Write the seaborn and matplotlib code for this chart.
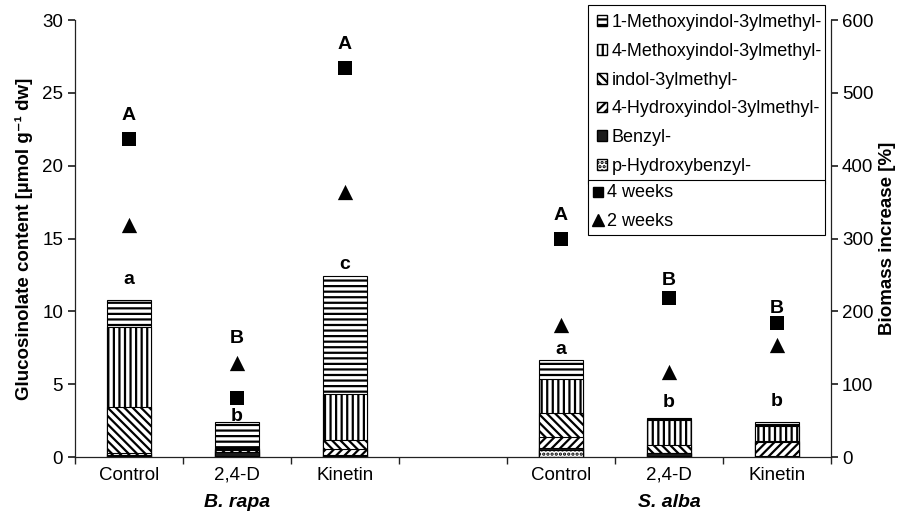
import numpy as np
import pandas as pd
import seaborn as sns
import matplotlib.pyplot as plt
from matplotlib.patches import Patch
from matplotlib.lines import Line2D

# --- data --------------------------------------------------------------
species = ["B. rapa", "S. alba"]
treatments = ["Control", "2,4-D", "Kinetin"]

# glucosinolate layers, bottom -> top, order: rapa Control, 2,4-D, Kinetin, alba Control, 2,4-D, Kinetin
p_hydroxybenzyl = [0.10, 0.05, 0.10, 0.45, 0.05, 0.03]
benzyl = [0.05, 0.30, 0.05, 0.15, 0.22, 0.02]
hydroxyindol_4 = [0.12, 0.10, 0.40, 0.77, 0.00, 0.98]
indol_3 = [3.13, 0.10, 0.62, 1.63, 0.55, 0.05]
methoxyindol_4 = [5.50, 0.05, 3.15, 2.35, 1.73, 1.05]
methoxyindol_1 = [1.90, 1.80, 8.10, 1.31, 0.13, 0.27]

# biomass increase [%]
weeks_4 = [437, 81, 534, 300, 218, 184]
weeks_2 = [319, 129, 364, 181, 117, 154]

# significance letters
lower_letters = ["a", "b", "c", "a", "b", "b"]
lower_y = [11.9, 2.45, 12.9, 7.1, 3.4, 3.5]          # left axis units
upper_letters = ["A", "B", "A", "A", "B", "B"]
upper_y = [463, 157, 560, 326, 236, 198]             # right axis units

layers = [
    ("p-Hydroxybenzyl-", p_hydroxybenzyl, "white", "...."),
    ("Benzyl-", benzyl, "#1c1c1c", ""),
    ("4-Hydroxyindol-3ylmethyl-", hydroxyindol_4, "white", "////"),
    ("indol-3ylmethyl-", indol_3, "white", "\\\\\\\\"),
    ("4-Methoxyindol-3ylmethyl-", methoxyindol_4, "white", "|||"),
    ("1-Methoxyindol-3ylmethyl-", methoxyindol_1, "white", "---"),
]

slots = [f"{sp} {t}" for sp in species for t in treatments]
order = slots[:3] + ["gap"] + slots[3:]

df = pd.DataFrame({"slot": slots})
running = np.zeros(len(slots))
for name, vals, _, _ in layers:
    running = running + np.array(vals)
    df[name] = running.copy()
df["4 weeks"] = weeks_4
df["2 weeks"] = weeks_2

# --- style ---------------------------------------------------------------
sns.set_theme(style="ticks")
plt.rcParams["font.family"] = ["Liberation Sans", "DejaVu Sans"]
plt.rcParams["hatch.linewidth"] = 1.6
plt.rcParams["axes.edgecolor"] = "#222222"
plt.rcParams["axes.linewidth"] = 0.9
for key in ["text.color", "axes.labelcolor", "xtick.color", "ytick.color"]:
    plt.rcParams[key] = "black"

fig = plt.figure(figsize=(9.08, 5.15), dpi=100)
ax = fig.add_axes([0.0826, 0.1126, 0.8326, 0.8485])

# stacked bars: draw cumulative totals from the top layer down
for name, _, face, hatch in reversed(layers):
    n0 = len(ax.patches)
    sns.barplot(data=df, x="slot", y=name, order=order, width=0.4,
                color=face, saturation=1, edgecolor="black", linewidth=0.8,
                errorbar=None, ax=ax)
    for p in ax.patches[n0:]:
        p.set_hatch(hatch)
        p.set_facecolor(face)

ax.set_ylim(0, 30)
ax.set_yticks(range(0, 31, 5))

ax2 = ax.twinx()
sns.stripplot(data=df, x="slot", y="4 weeks", order=order, jitter=False,
              marker="s", size=9.5, color="black", ax=ax2)
sns.stripplot(data=df, x="slot", y="2 weeks", order=order, jitter=False,
              marker="^", size=11, color="black", ax=ax2)
ax2.set_ylim(0, 600)
ax2.set_yticks(range(0, 601, 100))
ax2.set_xlim(-0.5, len(order) - 0.5)

# x axis: labels at centres, tick marks on slot boundaries
xpos = [order.index(s) for s in slots]
ax.set_xticks(xpos)
ax.set_xticklabels(treatments * 2, fontsize=13.5)
ax.tick_params(axis="x", length=0, pad=7)
ax.set_xticks(np.arange(-0.5, len(order), 1), minor=True)
ax.tick_params(axis="x", which="minor", length=5, direction="out", color="#222222")
ax.tick_params(axis="y", labelsize=13.5, length=5, direction="out", color="#222222")
ax2.tick_params(axis="y", labelsize=13.5, length=5, pad=3, direction="out", color="#222222")
ax.set_xlabel("")
ax2.set_xlabel("")

for side in ["top", "right"]:
    ax.spines[side].set_visible(False)
for side in ["top", "left", "bottom"]:
    ax2.spines[side].set_visible(False)

ax.set_ylabel("Glucosinolate content [µmol g\u207b\u00b9 dw]", fontsize=13.5,
              fontweight="bold")
ax.yaxis.set_label_coords(-0.056, 0.5)
ax2.set_ylabel("Biomass increase [%]", fontsize=13.5, fontweight="bold")
ax2.yaxis.set_label_coords(1.064, 0.5)

# species names under the groups
for i, sp in enumerate(species):
    ax.text(xpos[3 * i + 1], -0.105, sp, transform=ax.get_xaxis_transform(),
            ha="center", va="center", fontsize=14, fontweight="bold", style="italic")

# significance letters
for x, t, y in zip(xpos, lower_letters, lower_y):
    ax.text(x, y, t, ha="center", va="baseline", fontsize=14, fontweight="bold")
for x, t, y in zip(xpos, upper_letters, upper_y):
    ax2.text(x, y, t, ha="center", va="baseline", fontsize=14, fontweight="bold")

# legends: two boxes of equal width stacked on top of each other
bar_handles = [Patch(facecolor=face, edgecolor="black", hatch=hatch, label=name)
               for name, _, face, hatch in reversed(layers)]
mark_handles = [
    Line2D([], [], marker="s", color="black", linestyle="", markersize=7, label="4 weeks"),
    Line2D([], [], marker="^", color="black", linestyle="", markersize=8, label="2 weeks"),
]
leg_kw = dict(loc="upper left", mode="expand", fontsize=13, frameon=True,
              fancybox=False, edgecolor="black", framealpha=1, borderaxespad=0,
              handlelength=0.55, handleheight=0.55, handletextpad=0.25)
leg1 = ax2.legend(handles=bar_handles, bbox_to_anchor=(0.679, 0.5, 0.313, 0.534),
                  labelspacing=0.65, borderpad=0.5, **leg_kw)
leg1.get_frame().set_linewidth(0.8)
ax2.add_artist(leg1)
leg2 = ax2.legend(handles=mark_handles, bbox_to_anchor=(0.679, 0.0, 0.313, 0.634),
                  labelspacing=0.65, borderpad=0.25, **leg_kw)
leg2.get_frame().set_linewidth(0.8)

fig.savefig("out.png", dpi=100)
